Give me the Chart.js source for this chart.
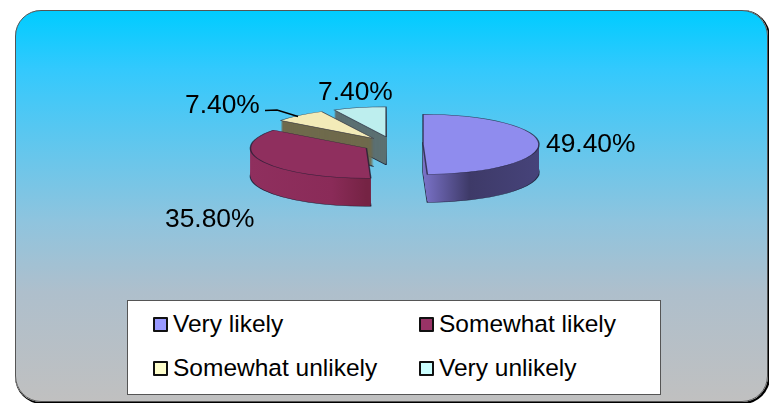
<!DOCTYPE html>
<html>
<head>
<meta charset="utf-8">
<script src="https://cdn.jsdelivr.net/npm/chart.js@4"></script>
<style>
    html, body { margin: 0; padding: 0; background: #fff; overflow: hidden; }
    #stage { position: relative; width: 769px; height: 403px; font-family: "Liberation Sans", Arial, sans-serif; color: #000; }
    #panel {
        position: absolute; left: 15px; top: 10px; width: 751px; height: 390px;
        border: 1px solid #555; border-radius: 26px;
        background: linear-gradient(#00ccff 0%, #33c9fd 15%, #8fc4de 54%, #aebfcc 72%, #c0c0c0 100%);
        box-shadow: 1px 1px 0 1px #000;
    }
    canvas { position: absolute; left: 0; top: 0; }
    #legend {
        position: absolute; left: 127px; top: 300px; width: 532px; height: 93px;
        background: #fff; border: 1px solid #555; font-size: 24.5px;
    }
    .item { position: absolute; height: 28px; line-height: 28px; white-space: nowrap; }
    .item i {
        position: absolute; left: -20px; top: 7px; width: 11px; height: 11px;
        border: 2px solid #111; border-radius: 1px;
    }
</style>
</head>
<body>
<div id="stage">
    <div id="panel"></div>
    <canvas id="pie" width="769" height="403"></canvas>
    <div id="legend"></div>
</div>
<script>
const categories = ['Very likely', 'Somewhat likely', 'Somewhat unlikely', 'Very unlikely'];
const shares = [49.4, 35.8, 7.4, 7.4];

const topColors = ['#8f8cee', '#8f2f5e', '#f3ebb8', '#bdeeee'];
const legendColors = ['#9999ff', '#993366', '#ffffcc', '#ccffff'];
const wallColors = ['#4a4680', '#83284f', '#6f6a4c', '#5c7072'];

// back to front
const drawOrder = [3, 2, 1, 0];
const labelSpots = [[546, 145], [165, 220], [185, 106], [318, 93]];
const legendSpots = [[45, 9], [311, 9], [45, 53], [311, 53]];

const pieX = 393, pieY = 144.5, squash = 0.26, depth = 28, explode = 30;

function wallFill(ctx, arc, i) {
    const r = arc.outerRadius;
    if (i === 0) {
        const g = ctx.createLinearGradient(arc.x, 0, arc.x + r, 0);
        g.addColorStop(0, '#7a72c8');
        g.addColorStop(0.4, '#3e3a68');
        g.addColorStop(1, '#46437a');
        return g;
    }
    if (i === 1) {
        const g = ctx.createLinearGradient(arc.x - r, 0, arc.x, 0);
        g.addColorStop(0, '#8f2f5e');
        g.addColorStop(0.7, '#8a2b58');
        g.addColorStop(1, '#752344');
        return g;
    }
    return wallColors[i];
}

function drawSlice(ctx, arc, drop, opts) {
    const mid = (arc.startAngle + arc.endAngle) / 2;
    const saved = arc.options;
    arc.options = Object.assign({}, saved, opts);
    ctx.save();
    ctx.translate(pieX, pieY + drop);
    ctx.scale(1, squash);
    ctx.translate(Math.cos(mid) * explode - arc.x, Math.sin(mid) * explode - arc.y);
    arc.draw(ctx);
    ctx.restore();
    arc.options = saved;
}

const pie3d = {
    id: 'pie3d',
    beforeDatasetsDraw(chart) {
        const ctx = chart.ctx;
        const arcs = chart.getDatasetMeta(0).data;
        drawOrder.forEach(i => {
            const arc = arcs[i];
            const wall = wallFill(ctx, arc, i);
            drawSlice(ctx, arc, depth, { backgroundColor: wall, borderColor: 'rgba(20,20,40,0.8)', borderWidth: 1.5 });
            for (let d = depth - 1; d > 0; d--) {
                drawSlice(ctx, arc, d, { backgroundColor: wall, borderWidth: 0 });
            }
            drawSlice(ctx, arc, 0, { backgroundColor: topColors[i], borderColor: 'rgba(30,30,50,0.75)', borderWidth: 1.5 });
        });

        // leader line of the third slice
        ctx.save();
        ctx.strokeStyle = '#000';
        ctx.lineWidth = 1.4;
        ctx.beginPath();
        ctx.moveTo(265, 110.5);
        ctx.lineTo(277, 110);
        ctx.lineTo(298, 116.5);
        ctx.stroke();

        ctx.fillStyle = '#000';
        ctx.font = '26.4px "Liberation Sans", Arial, sans-serif';
        ctx.textBaseline = 'middle';
        shares.forEach((v, i) => {
            ctx.fillText(v.toFixed(2) + '%', labelSpots[i][0], labelSpots[i][1]);
        });
        ctx.restore();
        return false;
    }
};

new Chart(document.getElementById('pie').getContext('2d'), {
    type: 'pie',
    data: {
        labels: categories,
        datasets: [{ data: shares, backgroundColor: topColors, borderWidth: 1 }]
    },
    options: {
        responsive: false,
        animation: false,
        layout: { padding: { top: 85, bottom: 85 } },
        plugins: { legend: { display: false }, tooltip: { enabled: false } }
    },
    plugins: [pie3d]
});

const legend = document.getElementById('legend');
categories.forEach((name, i) => {
    const item = document.createElement('div');
    item.className = 'item';
    item.style.left = legendSpots[i][0] + 'px';
    item.style.top = legendSpots[i][1] + 'px';
    item.innerHTML = '<i style="background:' + legendColors[i] + '"></i>' + name;
    legend.appendChild(item);
});
</script>
</body>
</html>
